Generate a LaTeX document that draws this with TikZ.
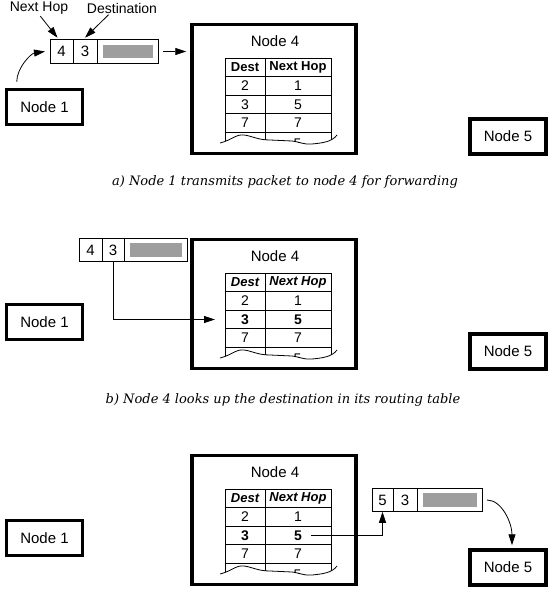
\documentclass[tikz,border=0pt]{standalone}
\usepackage{fontspec}
\setmainfont{Liberation Sans}
\newfontfamily\capfamily{DejaVu Serif}
\usetikzlibrary{arrows.meta,positioning,calc}
\newcommand{\tornedge}[1]{(220,143+#1) .. controls (232,140+#1) and (236,134+#1) .. (244,135+#1)
  .. controls (252,136+#1) and (258,140+#1) .. (270,140+#1) -- (292,141+#1)
  .. controls (300,142+#1) and (305,145+#1) .. (312,144+#1)
  .. controls (322,143+#1) and (332,142+#1) .. (337,135+#1)}
\tikzset{
  hostbox/.style={
    draw, line width=3.5pt, minimum width=76pt, minimum height=35pt,
    inner sep=0pt, font=\fontsize{15}{18}\selectfont
  },
  routerbox/.style={
    draw, line width=3.5pt, minimum width=164pt, minimum height=129pt, inner sep=0pt
  },
  routertitle/.style={inner sep=0pt, font=\fontsize{15}{18}\selectfont},
  tcell/.style={
    draw, line width=0.8pt, minimum height=18.5pt, inner sep=0pt, outer sep=0pt,
    font=\fontsize{14}{16}\selectfont
  },
  destcell/.style={tcell, minimum width=40pt},
  hopcell/.style={tcell, minimum width=66pt},
  pktcell/.style={
    draw, line width=0.8pt, minimum height=23.5pt, inner sep=0pt, outer sep=0pt,
    font=\fontsize{15}{18}\selectfont
  },
  payload/.style={fill=black!38},
  tline/.style={line width=0.8pt},
  ptr/.style={line width=0.8pt, -{Triangle[length=11pt,width=7pt]}},
  toplabel/.style={inner sep=0pt, font=\fontsize{14}{16}\selectfont},
  caption/.style={inner sep=0pt, font=\capfamily\itshape\fontsize{13}{16}\selectfont}
}
\begin{document}
\begin{tikzpicture}[x=1pt,y=-1pt]
  \useasboundingbox (0,0) rectangle (551,591);

  % the three snapshots share hosts, router and table
  \foreach \p/\dy/\hf/\rf in {a/0/\bfseries/\relax,b/215/\bfseries\itshape/\bfseries,c/431/\bfseries\itshape/\bfseries}{
    \node[hostbox] (node1\p) at (44.5,107+\dy) {Node 1};
    \node[hostbox] (node5\p) at (508,136.5+\dy) {Node 5};
    \node[routerbox] (node4\p) at (274,89+\dy) {};
    \node[routertitle] (title\p) at (275,41+\dy) {Node 4};
    % routing table
    \node[destcell, font=\fontsize{13}{15}\selectfont\hf] (hd\p) at (245,67.5+\dy) {Dest};
    \node[hopcell, font=\fontsize{13}{15}\selectfont\hf, right=0pt of hd\p] (hh\p) {Next Hop};
    \node[destcell, below=0pt of hd\p] (d2\p) {2};
    \node[hopcell, right=0pt of d2\p] (h2\p) {1};
    \node[destcell, below=0pt of d2\p] (d3\p) {\rf 3};
    \node[hopcell, right=0pt of d3\p] (h3\p) {\rf 5};
    \node[destcell, below=0pt of d3\p] (d7\p) {7};
    \node[hopcell, right=0pt of d7\p] (h7\p) {7};
    \begin{scope}
      \clip \tornedge{\dy} -- (337,125+\dy) -- (220,125+\dy) -- cycle;
      \draw[tline] (d7\p.south west) -- +(0,20) (d7\p.south east) -- +(0,20)
        (h7\p.south east) -- +(0,20);
      \node[tcell, draw=none] (h9\p) at (297.5,144+\dy) {5};
    \end{scope}
    \draw[tline] \tornedge{\dy};
  }

  % a) packet leaves node 1
  \node[pktcell, minimum width=23pt] (hopa) at (61.5,51.5) {4};
  \node[pktcell, minimum width=24pt, right=0pt of hopa] (dsta) {3};
  \node[pktcell, minimum width=61pt, right=0pt of dsta] (dataa) {};
  \node[toplabel] (lblhop) at (39,8) {Next Hop};
  \node[toplabel] (lbldest) at (122,8) {Destination};
  \draw[ptr, shorten <=2pt] (lblhop.south) -- ([xshift=-4pt,yshift=2pt]hopa.north);
  \draw[ptr, shorten <=2pt] ([xshift=-12pt]lbldest.south) -- ([yshift=2pt]dsta.north);
  \draw[ptr, shorten <=5pt, shorten >=4pt] (dataa.east) -- (dataa.east -| node4a.west);
  \draw[ptr, shorten <=6pt] ([xshift=12pt]node1a.north west)
    .. controls +(0,-20) and +(-14,2) .. ([xshift=-5pt]hopa.west);
  \node[caption] (capa) at (285,182) {a) Node 1 transmits packet to node 4 for forwarding};

  % b) lookup of the destination
  \node[pktcell, minimum width=23pt] (hopb) at (90.5,250) {4};
  \node[pktcell, minimum width=22pt, right=0pt of hopb] (dstb) {3};
  \node[pktcell, minimum width=63pt, right=0pt of dstb] (datab) {};
  \draw[ptr, shorten >=10pt] (dstb.south) |- (d3b);
  \node[caption] (capb) at (283,400) {b) Node 4 looks up the destination in its routing table};

  % c) next hop rewritten, packet sent on
  \node[pktcell, minimum width=21pt] (hopc) at (382.5,500) {5};
  \node[pktcell, minimum width=24pt, right=0pt of hopc] (dstc) {3};
  \node[pktcell, minimum width=65pt, right=0pt of dstc] (datac) {};
  \draw[ptr, shorten <=13pt] (h3c.center) -| (hopc.south);
  \draw[ptr, shorten <=5pt, shorten >=3pt] (datac.east)
    .. controls +(20,0) and +(0,-25) .. ([xshift=4pt]node5c.north);

  \foreach \q in {a,b,c}
    \fill[payload] ($(data\q.north west)+(6,5)$) rectangle ($(data\q.south east)+(-5,-5)$);
\end{tikzpicture}
\end{document}
